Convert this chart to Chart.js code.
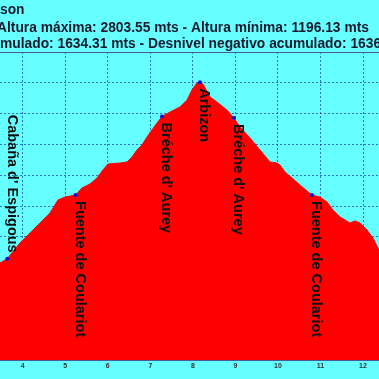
<!DOCTYPE html>
<html>
<head>
<meta charset="utf-8">
<script src="https://cdn.jsdelivr.net/npm/chart.js@4.4.1/dist/chart.umd.min.js"></script>
<style>
    html, body { margin: 0; padding: 0; background: #66ffff; }
    #wrap { width: 379px; height: 379px; position: relative; }
</style>
</head>
<body>
<div id="wrap"><canvas id="profileChart"></canvas></div>
<script>
// track profile: distance (km) and altitude (m)
var distKm = [3.28, 3.466, 3.638, 3.936, 4.242, 4.641, 4.829, 4.994, 5.241, 5.394, 5.582, 5.746, 5.887, 6.005,
    6.287, 6.451, 6.569, 6.686, 6.804, 6.922, 7.039, 7.157, 7.274, 7.462, 7.697, 7.862, 7.979, 8.097, 8.167,
    8.238, 8.403, 8.567, 8.802, 8.967, 9.108, 9.343, 9.578, 9.813, 9.977, 10.048, 10.166, 10.330, 10.518,
    10.800, 10.988, 11.153, 11.294, 11.459, 11.694, 11.811, 11.929, 12.093, 12.234, 12.375, 12.54];
var altM = [1597, 1630, 1658, 1760, 1844, 1955, 2039, 2058, 2071, 2117, 2143, 2182, 2234, 2273,
    2279, 2286, 2318, 2364, 2396, 2448, 2494, 2539, 2581, 2610, 2643, 2688, 2753, 2799, 2803.55,
    2792, 2708, 2675, 2623, 2571, 2513, 2442, 2364, 2286, 2279, 2266, 2221, 2182, 2136,
    2071, 2058, 2026, 1974, 1929, 1890, 1903, 1890, 1844, 1792, 1714, 1636];

// waypoints
var wpNames = ["Caba\u00f1a d' Espigous", "Fuente de Coulariot", "Br\u00e9che d' Aurey", "Arbizon",
    "Br\u00e9che d' Aurey", "Fuente de Coulariot"];
var wpKm = [3.638, 5.241, 7.274, 8.167, 8.967, 10.800];
var wpAlt = [1658, 2071, 2581, 2803.55, 2571, 2071];

var headerLines = [
    { text: 'son', x: 0, y: 10 },
    { text: 'Altura m\u00e1xima: 2803.55 mts - Altura m\u00ednima: 1196.13 mts', x: -3, y: 28 },
    { text: 'mulado: 1634.31 mts - Desnivel negativo acumulado: 1636', x: 0, y: 44 }
];

var xMin = 3.466, xMax = 12.376;
var yMin = 1000, yMax = 3000, yStep = 200;

var profile = distKm.map(function (d, i) { return { x: d, y: altM[i] }; });
var points = wpKm.map(function (d, i) { return { x: d, y: wpAlt[i] }; });

var headerPlugin = {
    id: 'header',
    afterDraw: function (chart) {
        var c = chart.ctx, a = chart.chartArea;
        c.save();
        c.font = 'bold 13.8px "Liberation Sans", Arial, sans-serif';
        c.fillStyle = '#1a1a2e';
        c.textBaseline = 'middle';
        c.textAlign = 'left';
        headerLines.forEach(function (h) { c.fillText(h.text, h.x, h.y); });
        // plot frame top
        c.strokeStyle = '#4a5a9a';
        c.lineWidth = 1;
        c.beginPath();
        c.moveTo(a.left, a.top + 0.5);
        c.lineTo(a.right, a.top + 0.5);
        c.stroke();
        c.restore();
    }
};

var labelPlugin = {
    id: 'wpLabels',
    afterDatasetsDraw: function (chart) {
        var c = chart.ctx, xs = chart.scales.x, ys = chart.scales.y, a = chart.chartArea;
        c.save();
        c.font = 'bold 14.5px "Liberation Sans", Arial, sans-serif';
        c.fillStyle = '#111';
        c.textBaseline = 'alphabetic';
        wpNames.forEach(function (name, i) {
            var px = xs.getPixelForValue(wpKm[i]);
            var py = ys.getPixelForValue(wpAlt[i]);
            var w = c.measureText(name).width;
            var start = py + 6;
            if (start + w > a.bottom - 20) start = py - 6 - w;
            c.save();
            c.translate(px + 0.5, start);
            c.rotate(Math.PI / 2);
            c.fillText(name, 0, 0);
            c.restore();
        });
        c.restore();
    }
};

new Chart(document.getElementById('profileChart').getContext('2d'), {
    type: 'line',
    data: {
        datasets: [
            {
                data: points,
                showLine: false,
                pointRadius: 2,
                pointHoverRadius: 2,
                pointBackgroundColor: '#1010d0',
                pointBorderWidth: 0,
                order: 0
            },
            {
                data: profile,
                borderColor: '#ff0000',
                backgroundColor: '#ff0000',
                borderWidth: 1,
                fill: 'start',
                pointRadius: 0,
                pointHoverRadius: 0,
                tension: 0,
                order: 1
            }
        ]
    },
    options: {
        responsive: true,
        maintainAspectRatio: false,
        animation: false,
        layout: { autoPadding: false, padding: { top: 52, left: 0, right: 0, bottom: 0 } },
        plugins: { legend: { display: false }, tooltip: { enabled: false } },
        scales: {
            x: {
                type: 'linear',
                min: xMin,
                max: xMax,
                z: 1,
                afterBuildTicks: function (s) {
                    var t = [];
                    for (var v = Math.ceil(s.min); v <= Math.floor(s.max); v++) t.push({ value: v });
                    s.ticks = t;
                },
                afterFit: function (s) {
                    s.height = 19;
                    s.paddingLeft = 0;
                    s.paddingRight = 0;
                },
                ticks: { stepSize: 1, color: '#333', padding: 2, font: { size: 7, weight: 'bold' }, maxRotation: 0, autoSkip: false },
                grid: { color: 'rgba(0, 0, 140, 0.55)', drawTicks: false },
                border: { display: true, color: '#4a5a9a', dash: [2, 2] }
            },
            y: {
                min: yMin,
                max: yMax,
                z: 1,
                afterFit: function (s) {
                    s.width = 0;
                    s.paddingTop = 0;
                    s.paddingBottom = 0;
                },
                ticks: { stepSize: yStep, display: false },
                grid: { color: 'rgba(0, 0, 140, 0.55)', drawTicks: false },
                border: { display: false, dash: [2, 2] }
            }
        }
    },
    plugins: [headerPlugin, labelPlugin]
});
</script>
</body>
</html>
